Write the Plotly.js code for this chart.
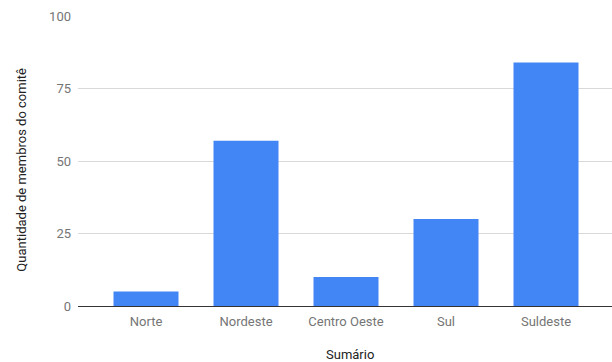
<!DOCTYPE html>
<html><head><meta charset="utf-8">
<script src="https://cdn.plot.ly/plotly-3.0.1.min.js"></script>
<style>html,body{margin:0;padding:0;background:#fff}#c{width:612px;height:362px}</style>
</head><body><div id="c"></div>
<script>
const categories = ["Norte", "Nordeste", "Centro Oeste", "Sul", "Suldeste"];
const values = [5, 57, 10, 30, 84];
const yTicks = [0, 25, 50, 75, 100];

Plotly.newPlot('c', [{
  type: 'bar', x: categories, y: values,
  marker: {color: '#4285F4'}, width: 0.65, hoverinfo: 'none'
}], {
  width: 612, height: 362,
  margin: {l: 78, r: 0, t: 16, b: 56},
  paper_bgcolor: '#fff', plot_bgcolor: '#fff',
  font: {family: 'Roboto, sans-serif', size: 12, color: '#757575'},
  showlegend: false,
  xaxis: {
    range: [-0.68, 4.66], showgrid: false, showline: false, zeroline: false,
    ticks: '', ticklabelstandoff: 6, tickfont: {size: 13, color: '#757575'}, fixedrange: true
  },
  yaxis: {
    range: [0, 100], tickvals: yTicks, ticktext: yTicks.map(String),
    showgrid: true, gridcolor: '#d9d9d9', gridwidth: 1,
    zeroline: true, zerolinecolor: '#333', zerolinewidth: 1,
    showline: false, ticks: '', ticklen: 0, ticklabelstandoff: 6,
    tickfont: {size: 13, color: '#757575'}, fixedrange: true
  },
  annotations: [
    {text: 'Quantidade de membros do comitê', xref: 'paper', yref: 'paper',
     x: -0.105, y: 0.47, textangle: -90, showarrow: false,
     font: {size: 13, color: '#222'}, xanchor: 'center', yanchor: 'middle'},
    {text: 'Sumário', xref: 'paper', yref: 'paper', x: 0.51, y: -0.135,
     showarrow: false, font: {size: 13, color: '#222'},
     xanchor: 'center', yanchor: 'top'}
  ]
}, {displayModeBar: false, staticPlot: true});
</script></body></html>
